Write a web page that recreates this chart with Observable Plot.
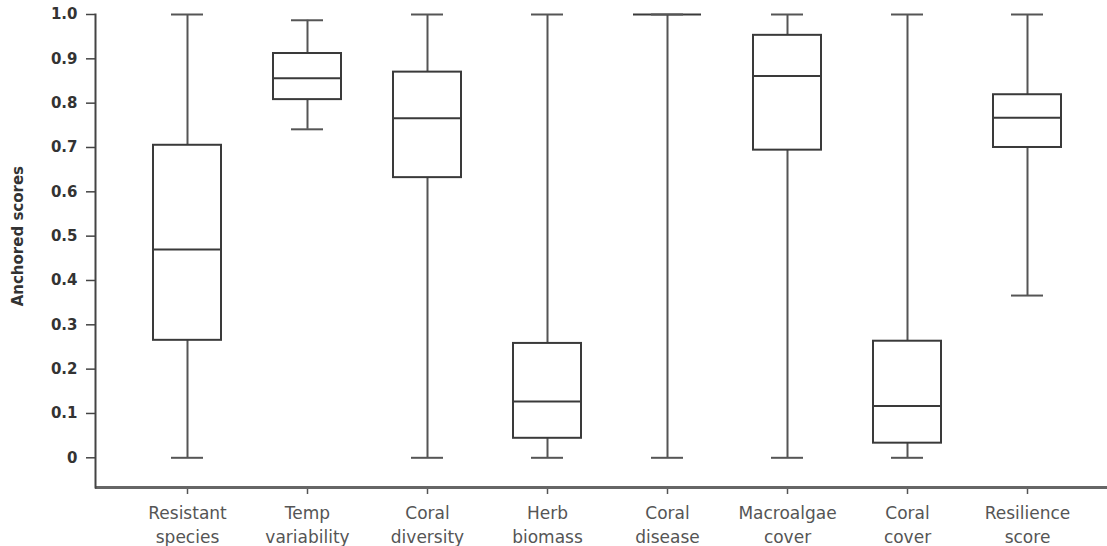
<!DOCTYPE html>
<html>
<head>
<meta charset="utf-8">
<script src="https://cdn.jsdelivr.net/npm/d3@7"></script>
<script src="https://cdn.jsdelivr.net/npm/@observablehq/plot@0.6"></script>
<style>
  html, body { margin: 0; padding: 0; background: #fff; }
</style>
</head>
<body>
<div id="chart"></div>
<script>
const categories = ["Resistant\nspecies", "Temp\nvariability", "Coral\ndiversity", "Herb\nbiomass", "Coral\ndisease", "Macroalgae\ncover", "Coral\ncover", "Resilience\nscore"];
const minValues    = [0,     0.741, 0,     0,     0, 0,     0,     0.366];
const q1Values     = [0.265, 0.808, 0.632, 0.044, 1, 0.694, 0.033, 0.700];
const medianValues = [0.470, 0.856, 0.766, 0.127, 1, 0.861, 0.117, 0.767];
const q3Values     = [0.705, 0.912, 0.870, 0.258, 1, 0.953, 0.263, 0.819];
const maxValues    = [1,     0.987, 1,     1,     1, 1,     1,     1];
const yTicks = [0, 0.1, 0.2, 0.3, 0.4, 0.5, 0.6, 0.7, 0.8, 0.9, 1.0];
const yLabel = "Anchored scores";

const rows = categories.map((c, i) => ({
  cat: c, min: minValues[i], q1: q1Values[i], median: medianValues[i], q3: q3Values[i], max: maxValues[i]
}));
const caps = rows.flatMap(r => [{cat: r.cat, v: r.min}, {cat: r.cat, v: r.max}]);
const yMin = -0.067;

const chart = Plot.plot({
  width: 1107,
  height: 546,
  marginLeft: 95,
  marginRight: 0,
  marginTop: 14,
  marginBottom: 59,
  style: {fontFamily: "DejaVu Sans", fontSize: "17px", color: "#333", background: "#fff"},
  x: {type: "band", domain: categories, range: [125, 1089], paddingInner: 0.435, paddingOuter: 0.2175},
  y: {domain: [yMin, 1], label: null},
  marks: [
    Plot.axisY({ticks: yTicks, tickSize: 9, tickPadding: 9, tickFormat: d => d === 0 ? "0" : d.toFixed(1), label: null, stroke: "#444", strokeWidth: 1.5, fill: "#333", fontSize: 15, fontWeight: "bold"}),
    Plot.axisX({tickSize: 7, tickPadding: 8, label: null, lineHeight: 1.4, stroke: "#555", strokeWidth: 1.5, fill: "#555"}),
    Plot.ruleY([yMin], {stroke: "#666", strokeWidth: 3}),
    Plot.frame({anchor: "left", stroke: "#444", strokeWidth: 2}),
    Plot.ruleX(rows, {x: "cat", y1: "min", y2: "q1", stroke: "#555", strokeWidth: 2}),
    Plot.ruleX(rows, {x: "cat", y1: "q3", y2: "max", stroke: "#555", strokeWidth: 2}),
    Plot.rect(rows, {x: "cat", y1: "q1", y2: "q3", fill: "#fff", stroke: "#3a3a3a", strokeWidth: 2}),
    Plot.tickY(rows, {x: "cat", y: "median", stroke: "#3a3a3a", strokeWidth: 2}),
    Plot.tickY(caps, {x: "cat", y: "v", stroke: "#555", strokeWidth: 2, insetLeft: 18, insetRight: 18}),
    Plot.text([0.5], {y: d => d, text: () => yLabel, frameAnchor: "left", textAnchor: "middle", lineAnchor: "middle", dx: -77, rotate: -90, fill: "#333", fontSize: 15, fontWeight: "bold"})
  ]
});
document.getElementById("chart").appendChild(chart);
</script>
</body>
</html>
